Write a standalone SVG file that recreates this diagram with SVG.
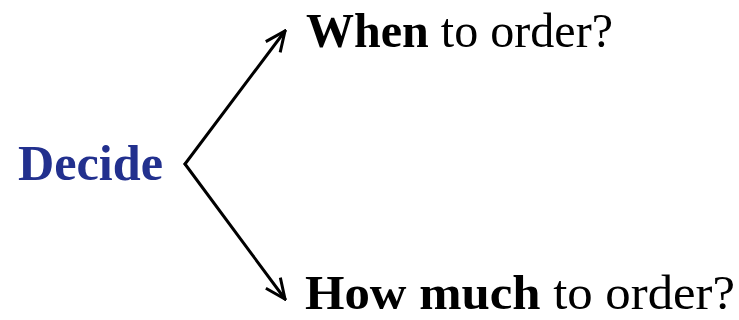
<svg xmlns="http://www.w3.org/2000/svg" width="739" height="320" viewBox="0 0 739 320">
  <style>
    .lbl { font-family: "Liberation Serif", "Times New Roman", serif; font-size: 49px; fill: #000; }
    .b { font-weight: bold; }
    .src { font-family: "Liberation Serif", "Times New Roman", serif; font-size: 50px; font-weight: bold; fill: #22308E; }
    .conn { fill: none; stroke: #000; stroke-width: 3; stroke-linecap: round; }
  </style>
  <defs>
    <marker id="arrow" viewBox="0 0 24 22" refX="22" refY="11" markerWidth="24" markerHeight="22" markerUnits="userSpaceOnUse" orient="auto">
      <path d="M2,2 L22,11 L2,20" fill="none" stroke="#000" stroke-width="3" stroke-linejoin="miter"/>
    </marker>
  </defs>
  <g id="decide">
    <text class="src" x="18" y="180" textLength="145" lengthAdjust="spacingAndGlyphs">Decide</text>
  </g>
  <g id="when">
    <text class="lbl" x="306" y="47" textLength="307" lengthAdjust="spacingAndGlyphs"><tspan class="b">When</tspan> to order?</text>
  </g>
  <g id="howmuch">
    <text class="lbl" x="305" y="309" textLength="430" lengthAdjust="spacingAndGlyphs"><tspan class="b">How much</tspan> to order?</text>
  </g>
  <g id="connectors">
    <path class="conn" d="M185,164 L285,31" marker-end="url(#arrow)"/>
    <path class="conn" d="M185,164 L285,299" marker-end="url(#arrow)"/>
  </g>
</svg>
